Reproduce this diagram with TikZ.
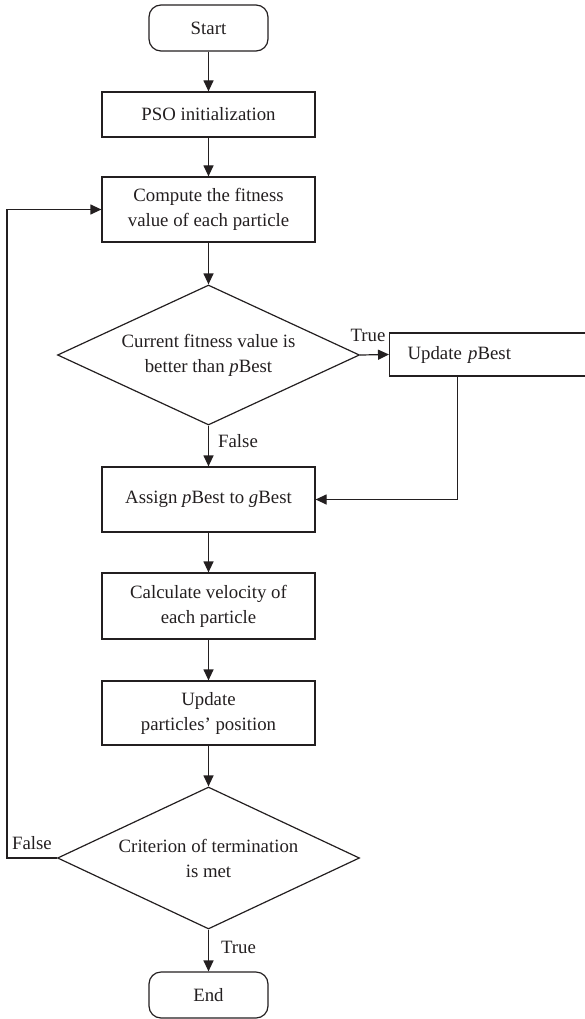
\documentclass[tikz,border=0pt]{standalone}
\usepackage{fontspec}
\setmainfont{Liberation Serif}
\usetikzlibrary{shapes.geometric,arrows.meta}
\definecolor{ink}{HTML}{231F20}
\begin{document}
\begin{tikzpicture}[x=1pt,y=-1pt,
  every node/.style={font=\fontsize{18.8}{25}\selectfont, text=ink},
  boxnode/.style={draw=ink, line width=1.2pt, rectangle, minimum width=213pt, inner sep=0pt, align=center},
  termnode/.style={draw=ink, line width=1.2pt, rectangle, rounded corners=12pt, minimum width=119pt, minimum height=46pt, inner sep=0pt},
  decnode/.style={draw=ink, line width=1.2pt, diamond, aspect=2.17, minimum width=302pt, minimum height=140pt, inner sep=0pt, align=center},
  flow/.style={draw=ink, line width=1.2pt, -{Triangle[length=11pt,width=10pt]}},
  lbl/.style={inner sep=0pt}
]
\useasboundingbox (0,0) rectangle (585,1019);
\clip (0,0) rectangle (585,1019);

\node[termnode] (start) at (208.5,28) {Start};
\node[boxnode, minimum height=45pt] (init) at (208.5,114.5) {PSO initialization};
\node[boxnode, minimum height=65pt] (fit) at (208.5,209.5) {Compute the fitness\\value of each particle};
\node[decnode] (d1) at (208.5,355) {Current fitness value is\\better than \textit{p}Best};
\node[draw=ink, line width=1.2pt, rectangle, anchor=west, minimum height=43pt, text width=175pt, inner xsep=18pt, inner ysep=0pt, align=left] (upd) at (389,354.5) {Update \textit{p}Best};
\node[boxnode, minimum height=65pt] (assign) at (208.5,499.5) {Assign \textit{p}Best to \textit{g}Best};
\node[boxnode, minimum height=66pt] (vel) at (208.5,606) {Calculate velocity of\\each particle};
\node[boxnode, minimum height=64pt] (pos) at (208.5,713) {Update\\particles' position};
\node[decnode, minimum height=142pt] (d2) at (208.5,858) {Criterion of termination\\is met};
\node[termnode] (end) at (208.5,995) {End};

\coordinate (updturn) at (457.7,499.5);
\coordinate (loopb) at (7,858);
\coordinate (loopt) at (7,209.5);

\draw[flow] (start) -- (init);
\draw[flow] (init) -- (fit);
\draw[flow] (fit) -- (d1.north);
\draw[flow] (d1.east) -- (upd.west);
\draw[flow] (d1.south) -- (assign.north);
\draw[flow] (upd.south -| updturn) -- (updturn) -- (assign.east);
\draw[flow] (assign) -- (vel);
\draw[flow] (vel) -- (pos);
\draw[flow] (pos) -- (d2.north);
\draw[flow] (d2.south) -- (end.north);
\draw[flow] (d2.west) -- (loopb) -- (loopt) -- (fit.west);

\node[lbl] (t1) at (368,335) {True};
\node[lbl] (f1) at (238,441) {False};
\node[lbl] (f2) at (32,843) {False};
\node[lbl] (t2) at (238.5,947) {True};
\end{tikzpicture}
\end{document}
